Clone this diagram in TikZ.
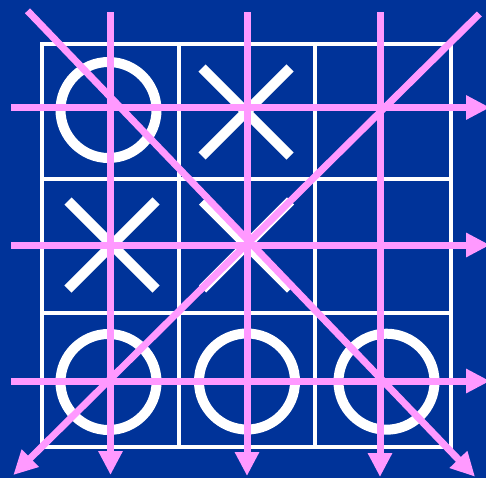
\documentclass[tikz,border=0pt]{standalone}
\usetikzlibrary{arrows.meta}
\definecolor{bgblue}{RGB}{0,51,153}
\definecolor{pinkline}{RGB}{255,153,255}
\tikzset{
  gridline/.style={draw=white, line width=4pt},
  oring/.style={draw=white, line width=10pt},
  xmark/.style={draw=white, line width=10pt, line cap=butt},
  pinkarrow/.style={draw=pinkline, line width=7pt, line cap=butt,
    -{Triangle[length=24pt,width=23pt]}},
}
\begin{document}
\begin{tikzpicture}[x=1pt,y=-1pt]
\fill[bgblue] (0,0) rectangle (486,478);
\useasboundingbox (0,0) rectangle (486,478);
\clip (0,0) rectangle (486,478);
% grid
\draw[gridline] (42,44) rectangle (451,447);
\draw[gridline] (178.5,44) -- (178.5,447);
\draw[gridline] (315,44) -- (315,447);
\draw[gridline] (42,179) -- (451,179);
\draw[gridline] (42,313) -- (451,313);
% O marks
\draw[oring] (108.5,110) circle (48);
\draw[oring] (108.5,382) circle (48);
\draw[oring] (247,381.5) circle (48);
\draw[oring] (386.5,381.7) circle (48);
% X marks
\foreach \cx/\cy in {246/112, 112/245, 246.5/245}{
  \draw[xmark] (\cx-44,\cy-44) -- (\cx+44,\cy+44);
  \draw[xmark] (\cx+44,\cy-44) -- (\cx-44,\cy+44);
}
% pink arrows
\coordinate (h1s) at (11,107.5);  \coordinate (h1e) at (490,107.5);
\coordinate (h2s) at (11,245);    \coordinate (h2e) at (490,245);
\coordinate (h3s) at (11,381);    \coordinate (h3e) at (490,381);
\coordinate (v1s) at (110.5,12.5); \coordinate (v1e) at (110.5,475);
\coordinate (v2s) at (247,12.5);   \coordinate (v2e) at (247,476);
\coordinate (v3s) at (380,12.5);   \coordinate (v3e) at (380,477);
\coordinate (d1s) at (27.5,10.8);  \coordinate (d1e) at (475,476.7);
\coordinate (d2s) at (479.3,14);   \coordinate (d2e) at (13.3,475);
\foreach \n in {h1,h2,h3,v1,v2,v3,d1,d2}{
  \draw[pinkarrow] (\n s) -- (\n e);
}
\end{tikzpicture}
\end{document}
